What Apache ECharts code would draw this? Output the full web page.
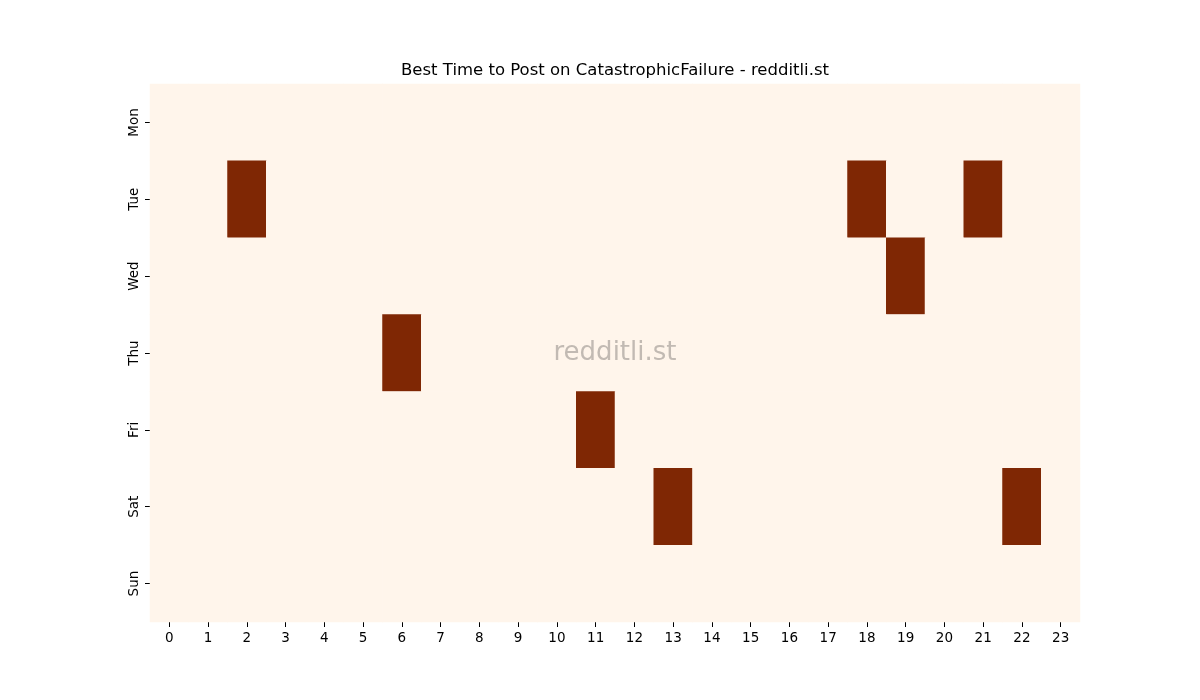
<!DOCTYPE html>
<html>
<head>
<meta charset="utf-8">
<script src="https://cdn.jsdelivr.net/npm/echarts@6/dist/echarts.min.js"></script>
<style>html,body{margin:0;padding:0;background:#fff;}#c{width:1200px;height:700px;}</style>
</head>
<body>
<div id="c"></div>
<script>
const days = ['Mon','Tue','Wed','Thu','Fri','Sat','Sun'];
const hours = ['0','1','2','3','4','5','6','7','8','9','10','11','12','13','14','15','16','17','18','19','20','21','22','23'];
// [hour, dayIndex] cells marked as best time (value 1); all others 0
const hotHours = [2, 18, 21, 19, 6, 11, 13, 22];
const hotDays  = [1, 1, 1, 2, 3, 4, 5, 5];

const data = [];
for (let d = 0; d < days.length; d++) {
  for (let h = 0; h < hours.length; h++) {
    let v = 0;
    for (let k = 0; k < hotHours.length; k++) {
      if (hotHours[k] === h && hotDays[k] === d) v = 1;
    }
    data.push([h, d, v]);
  }
}

const font = 'DejaVu Sans';
const chart = echarts.init(document.getElementById('c'));
chart.setOption({
  backgroundColor: '#ffffff',
  animation: false,
  title: {
    text: 'Best Time to Post on CatastrophicFailure - redditli.st',
    left: 610, top: 57, textAlign: 'center',
    textStyle: { fontFamily: font, fontSize: 16.5, fontWeight: 'normal', color: '#000' }
  },
  grid: { left: 150, right: 120, top: 84, bottom: 78 },
  xAxis: {
    type: 'category', data: hours, boundaryGap: true,
    axisLine: { show: false },
    axisTick: { show: true, alignWithLabel: true, length: 5, lineStyle: { color: '#000' } },
    axisLabel: { fontFamily: font, fontSize: 13.5, color: '#000', margin: 9, interval: 0 },
    splitLine: { show: false }
  },
  yAxis: {
    type: 'category', data: days, inverse: true, boundaryGap: true,
    axisLine: { show: false },
    axisTick: { show: true, alignWithLabel: true, length: 5, lineStyle: { color: '#000' } },
    axisLabel: { fontFamily: font, fontSize: 13.5, color: '#000', rotate: 90, margin: 9, interval: 0 },
    splitLine: { show: false }
  },
  visualMap: {
    show: false, min: 0, max: 1, dimension: 2,
    inRange: { color: ['#fff5eb', '#7f2704'] }
  },
  series: [{
    type: 'heatmap', data: data,
    itemStyle: { borderWidth: 0 },
    emphasis: { disabled: true }
  }],
  graphic: [{
    type: 'text', x: 615, y: 353, z: 100,
    style: {
      text: 'redditli.st',
      fill: '#c2bab3', font: '26px "DejaVu Sans"',
      textAlign: 'center', textVerticalAlign: 'middle'
    }
  }]
});
</script>
</body>
</html>
